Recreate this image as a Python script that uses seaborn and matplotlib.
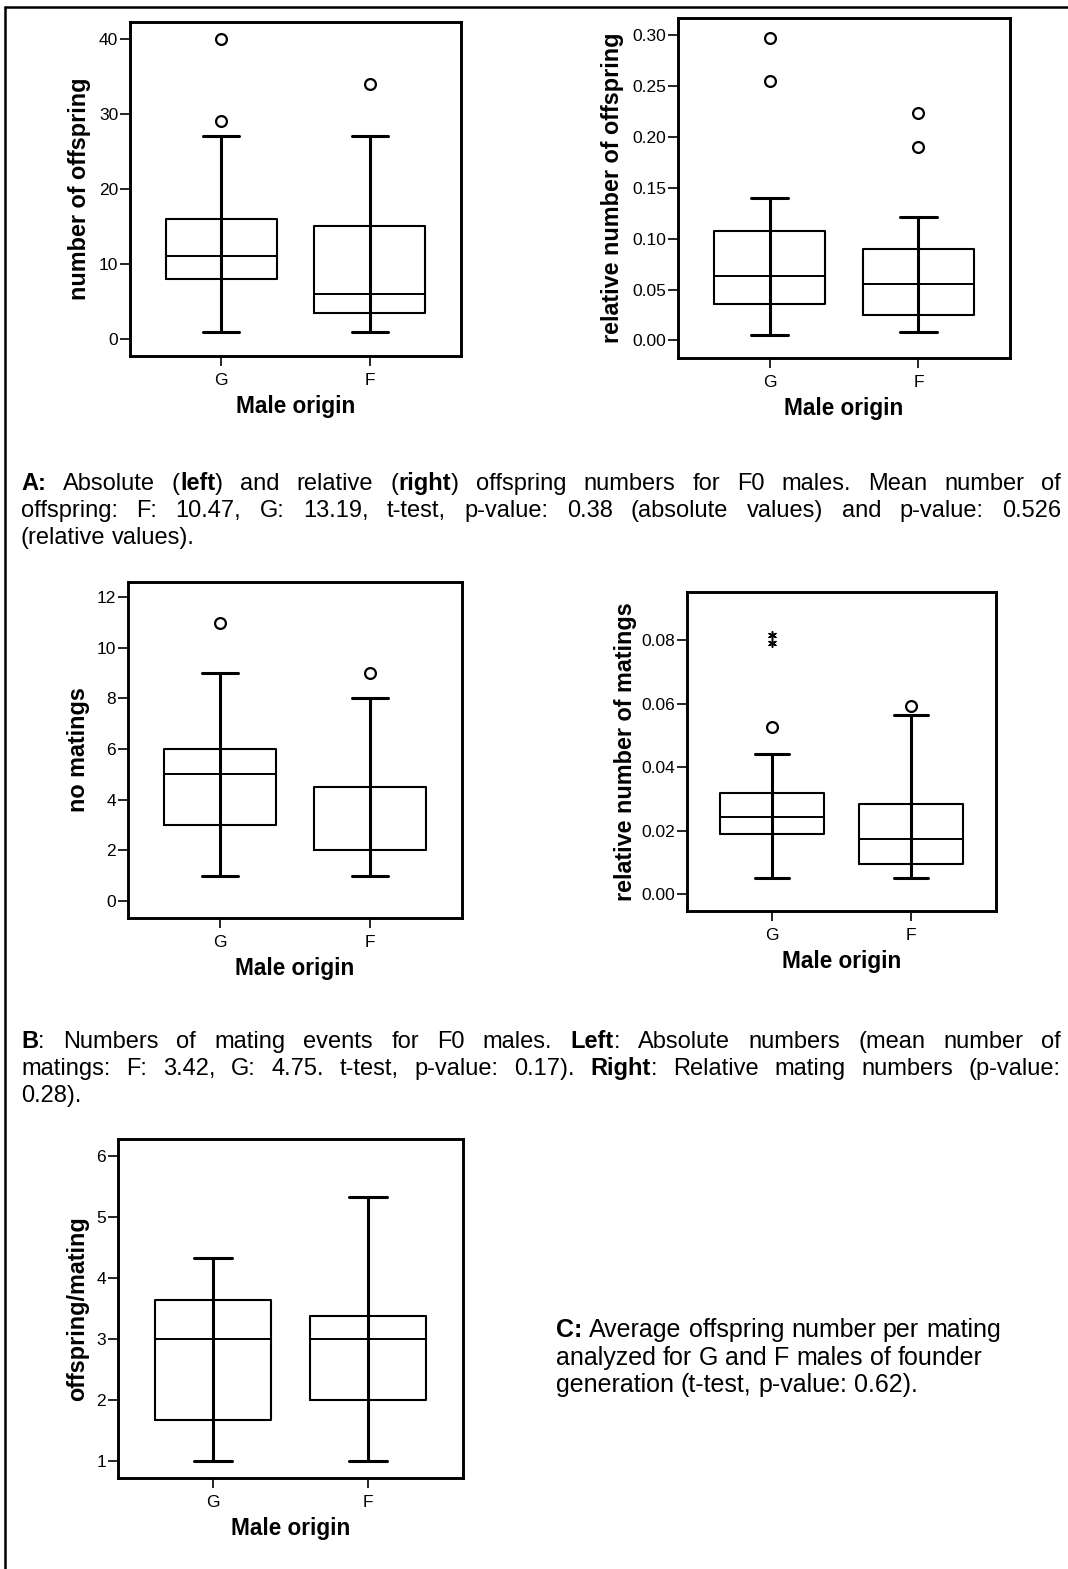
import matplotlib
matplotlib.use("Agg")
import matplotlib.pyplot as plt
from matplotlib.lines import Line2D
from matplotlib.ticker import FormatStrFormatter
import seaborn as sns

W, H = 1068, 1569

ORIGINS = ["G", "F"]

# five-number summaries per origin (G, F): whisker low, q1, median, q3, whisker high
ABS_SUMMARY = [[1, 8, 11, 16, 27], [1, 3.5, 6, 15, 27]]
ABS_OUTLIERS = [[29, 40], [34]]
ABS_TICKS = [0, 10, 20, 30, 40]

REL_SUMMARY = [[0.005, 0.036, 0.063, 0.108, 0.140], [0.008, 0.025, 0.055, 0.090, 0.121]]
REL_OUTLIERS = [[0.255, 0.297], [0.190, 0.224]]
REL_TICKS = [0.00, 0.05, 0.10, 0.15, 0.20, 0.25, 0.30]

MAT_SUMMARY = [[1, 3, 5, 6, 9], [1, 2, 2, 4.5, 8]]
MAT_OUTLIERS = [[11], [9]]
MAT_TICKS = [0, 2, 4, 6, 8, 10, 12]

RELMAT_SUMMARY = [[0.005, 0.019, 0.0243, 0.032, 0.044], [0.005, 0.0095, 0.0174, 0.0284, 0.0563]]
RELMAT_OUTLIERS = [[0.0526], [0.0592]]
RELMAT_EXTREMES = [[0.0789, 0.0815], []]
RELMAT_TICKS = [0.00, 0.02, 0.04, 0.06, 0.08]

PERMAT_SUMMARY = [[1, 1.66, 3, 3.63, 4.33], [1, 2, 3, 3.38, 5.33]]
PERMAT_OUTLIERS = [[], []]
PERMAT_TICKS = [1, 2, 3, 4, 5, 6]

CAPTION_A = [
    "**A:** Absolute (**left**) and relative (**right**) offspring numbers for F0 males. Mean number of",
    "offspring: F: 10.47, G: 13.19, t-test, p-value: 0.38 (absolute values) and p-value: 0.526",
    "(relative values).",
]
CAPTION_B = [
    "**B**: Numbers of mating events for F0 males. **Left**: Absolute numbers (mean number of",
    "matings: F: 3.42, G: 4.75. t-test, p-value: 0.17). **Right**: Relative mating numbers (p-value:",
    "0.28).",
]
CAPTION_C = [
    "**C:** Average offspring number per mating",
    "analyzed for G and F males of founder",
    "generation (t-test, p-value: 0.62).",
]

sns.set_style("ticks", rc={"axes.edgecolor": "black", "text.color": "black",
                           "axes.labelcolor": "black", "xtick.color": "black",
                           "ytick.color": "black"})
plt.rcParams["font.family"] = ["Liberation Sans", "DejaVu Sans"]

fig = plt.figure(figsize=(W / 100, H / 100), dpi=100)
rend = fig.canvas.get_renderer()


def as_points(values_per_origin):
    xs = [ORIGINS[i] for i, vals in enumerate(values_per_origin) for _ in vals]
    ys = [v for vals in values_per_origin for v in vals]
    return xs, ys


def draw_panel(rect, summary, outliers, ticks, ylim, ylabel, label_dx,
               fmt=None, extremes=None):
    x0, y0, x1, y1 = rect
    ax = fig.add_axes([x0 / W, 1 - y1 / H, (x1 - x0) / W, (y1 - y0) / H])

    xs, ys = as_points(outliers)
    if ys:
        sns.stripplot(x=xs, y=ys, order=ORIGINS, jitter=False, color="white",
                      edgecolor="black", linewidth=1.6, size=7.8, ax=ax, zorder=5)
    if extremes:
        xs, ys = as_points(extremes)
        sns.stripplot(x=xs, y=ys, order=ORIGINS, jitter=False, color="black",
                      marker=(6, 2, 0), linewidth=1.1, size=5.5, ax=ax, zorder=5)

    stats = [dict(whislo=s[0], q1=s[1], med=s[2], q3=s[3], whishi=s[4], fliers=[])
             for s in summary]
    pos = list(range(len(ORIGINS)))
    ax.bxp(stats, positions=pos, widths=0.75, capwidths=0.245, showfliers=False,
           manage_ticks=False,
           boxprops=dict(color="black", linewidth=1.5),
           whiskerprops=dict(color="black", linewidth=2.2),
           capprops=dict(color="black", linewidth=2.2),
           medianprops=dict(color="black", linewidth=1.4))
    # SPSS style: whisker runs straight through the box
    ax.vlines(pos, [s[1] for s in summary], [s[3] for s in summary],
              color="black", linewidth=2.2, zorder=3)

    ax.set_xlim(-0.615, 1.615)
    ax.set_xticks(pos)
    ax.set_xticklabels(ORIGINS)
    ax.set_ylim(*ylim)
    ax.set_yticks(ticks)
    if fmt:
        ax.yaxis.set_major_formatter(FormatStrFormatter(fmt))
    for sp in ax.spines.values():
        sp.set_linewidth(2.1)
        sp.set_visible(True)
    ax.tick_params(axis="both", direction="out", length=7.5, width=1.2, labelsize=12.5)
    ax.tick_params(axis="y", pad=1)
    ax.tick_params(axis="x", pad=4.5)

    ax.set_ylabel(ylabel, fontsize=16.8, fontweight="bold")
    ax.yaxis.set_label_coords(label_dx / (x1 - x0), 0.5)
    ax.set_xlabel("Male origin", fontsize=16.3, fontweight="bold", va="top")
    ax.xaxis.set_label_coords(0.5, -39 / (y1 - y0))
    return ax


draw_panel((130, 22, 461, 356), ABS_SUMMARY, ABS_OUTLIERS, ABS_TICKS,
           (-2.26, 42.2), "number of offspring", -39)
draw_panel((678, 18, 1010, 358), REL_SUMMARY, REL_OUTLIERS, REL_TICKS,
           (-0.0173, 0.3171), "relative number of offspring", -54, fmt="%.2f")
draw_panel((128, 582, 462, 918), MAT_SUMMARY, MAT_OUTLIERS, MAT_TICKS,
           (-0.67, 12.6), "no matings", -38)
draw_panel((687, 592, 996, 911), RELMAT_SUMMARY, RELMAT_OUTLIERS, RELMAT_TICKS,
           (-0.00525, 0.0951), "relative number of matings", -50, fmt="%.2f",
           extremes=RELMAT_EXTREMES)
draw_panel((118, 1139, 463, 1478), PERMAT_SUMMARY, PERMAT_OUTLIERS, PERMAT_TICKS,
           (0.716, 6.274), "offspring/mating", -29)


def parse_word(word):
    parts = word.split("**")
    return [(p, k % 2 == 1) for k, p in enumerate(parts) if p]


def seg_width(text, size, bold):
    t = fig.text(0, 0, text, fontsize=size, fontweight="bold" if bold else "normal")
    w = t.get_window_extent(renderer=rend).width
    t.remove()
    return w


def put_caption(lines, x0, x1, baselines, size, justify):
    space = size * 0.278 * 100 / 72
    for i, (line, yb) in enumerate(zip(lines, baselines)):
        words = [parse_word(w) for w in line.split(" ")]
        widths = [sum(seg_width(t, size, b) for t, b in w) for w in words]
        if justify and i < len(lines) - 1 and len(words) > 1:
            gap = (x1 - x0 - sum(widths)) / (len(words) - 1)
        else:
            gap = space
        x = x0
        for segs, w in zip(words, widths):
            for text, bold in segs:
                fig.text(x / W, 1 - yb / H, text, fontsize=size,
                         fontweight="bold" if bold else "normal",
                         ha="left", va="baseline")
                x += seg_width(text, size, bold)
            x += gap


put_caption(CAPTION_A, 21, 1061, [490, 517, 544], 17, True)
put_caption(CAPTION_B, 21, 1061, [1048, 1075, 1102], 17, True)
put_caption(CAPTION_C, 556, None, [1337, 1365, 1392], 18, False)

# outer frame (top and left edges only)
fig.add_artist(Line2D([5 / W, 1], [1 - 6.5 / H, 1 - 6.5 / H], transform=fig.transFigure,
                      color="black", linewidth=1.8))
fig.add_artist(Line2D([5 / W, 5 / W], [0, 1 - 6.5 / H], transform=fig.transFigure,
                      color="black", linewidth=1.8))

fig.savefig("out.png", dpi=100)
